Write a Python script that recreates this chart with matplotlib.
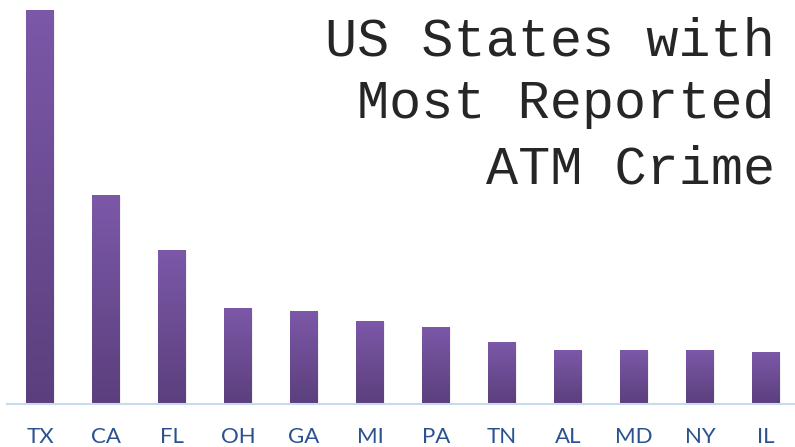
import matplotlib
matplotlib.use("Agg")
import matplotlib.pyplot as plt
import numpy as np
from matplotlib.colors import LinearSegmentedColormap

states = ["TX", "CA", "FL", "OH", "GA", "MI", "PA", "TN", "AL", "MD", "NY", "IL"]
values = [394, 209, 154, 96, 93, 83, 77, 62, 54, 54, 54, 52]
title_lines = ["US States with", "Most Reported", "ATM Crime"]

W, H = 795, 447
fig = plt.figure(figsize=(W / 100, H / 100), dpi=100)
ax = fig.add_axes([0, 0, 1, 1])
ax.axis("off")

cmap = LinearSegmentedColormap.from_list("g", ["#5B3F7D", "#7C58A8"])
grad = np.linspace(0, 1, 256).reshape(-1, 1)
bw = 0.42
for i, v in enumerate(values):
    ax.add_patch(plt.Rectangle((i - bw / 2 + 0.02, 0), bw, v - 1, color="#000000", alpha=0.06, lw=0, zorder=1))
    ax.imshow(grad, extent=(i - bw / 2, i + bw / 2, 0, v), origin="lower", cmap=cmap,
              aspect="auto", zorder=2, interpolation="bicubic")

ax.set_xlim(-40 / 66, (W - 40) / 66)
ax.set_ylim(-43, 404)
ax.axhline(0, xmin=7 / W, xmax=1, color="#C9D9EE", lw=1.5, zorder=3)

for i, s in enumerate(states):
    ax.text(i, -39, s, ha="center", va="baseline", fontsize=16, color="#2B5290", family="Lato")

baselines = [55, 118, 183]
for line, b in zip(title_lines, baselines):
    fig.text(775 / W, 1 - b / H, line, ha="right", va="baseline", fontsize=38.5,
             family="Liberation Mono", color="#262626")

fig.savefig("out.png", dpi=100)
